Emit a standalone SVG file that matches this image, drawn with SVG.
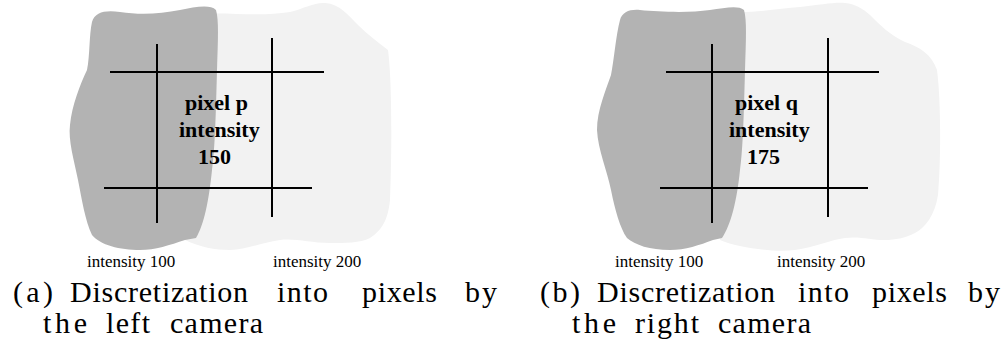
<svg xmlns="http://www.w3.org/2000/svg" width="1005" height="358" viewBox="0 0 1005 358">
<style>
.dark{fill:#b3b3b3}
.light{fill:#f2f2f2}
.grid line{stroke:#000;stroke-width:2}
.lbl{font-family:"Liberation Serif",serif;font-weight:bold;font-size:22px;fill:#000}
.sm{font-family:"Liberation Serif",serif;font-size:17px;fill:#000}
.cap{font-family:"Liberation Serif",serif;font-size:30px;fill:#000}
</style>
<rect width="1005" height="358" fill="#fff"/>
<g id="panel-a">
<g id="a-light-region"><path class="light" d="M200,14 C230,12 260,17 290,12 C305,8 315,2 325,3 C340,4 348,15 358,25 C368,35 378,42 388,50 C392,80 392,150 390,200 C388,220 382,230 370,238 C360,243 345,243 330,243 C310,243 295,238 280,240 C260,243 245,250 230,250 C215,250 200,247 185,240 Z"/></g>
<g id="a-dark-region"><path class="dark" d="M92,22 C95,12 105,10 120,12 C140,15 160,14 180,10 C195,7 210,4 216,10 C219,20 218,40 217,70 C216,110 215,150 212,170 C209,200 204,225 196,238 L185,240 C170,245 155,250 140,250 C120,250 100,245 92,235 C85,220 82,200 78,180 C74,160 68,140 70,125 C72,105 80,85 87,70 C90,55 89,35 92,22 Z"/></g>
<g id="a-grid" class="grid">
<line x1="110" y1="72" x2="324" y2="72"/>
<line x1="104" y1="188" x2="312" y2="188"/>
<line x1="157" y1="44" x2="157" y2="223"/>
<line x1="272" y1="38" x2="272" y2="217"/>
</g>
<g id="a-pixel-label">
<text class="lbl" x="185" y="110">pixel p</text>
<text class="lbl" x="179" y="137">intensity</text>
<text class="lbl" x="198" y="164">150</text>
</g>
<text class="sm" x="87" y="267">intensity 100</text>
<text class="sm" x="273" y="267">intensity 200</text>
<g id="a-caption" class="cap">
<text x="13" y="302" textLength="40" lengthAdjust="spacing">(a)</text>
<text x="70" y="302" textLength="178" lengthAdjust="spacing">Discretization</text>
<text x="277" y="302" textLength="51" lengthAdjust="spacing">into</text>
<text x="362" y="302" textLength="75" lengthAdjust="spacing">pixels</text>
<text x="465" y="302" textLength="32" lengthAdjust="spacing">by</text>
<text x="43" y="333" textLength="44" lengthAdjust="spacing">the</text>
<text x="106" y="333" textLength="44" lengthAdjust="spacing">left</text>
<text x="170" y="333" textLength="93" lengthAdjust="spacing">camera</text>
</g>
</g>
<g id="panel-b">
<g id="b-light-region"><path class="light" d="M730,12 C760,13 780,8 800,7 C820,5 835,2 845,3 C855,4 862,8 870,15 C880,25 890,35 905,42 C920,47 932,55 937,70 C941,100 941,160 938,195 C935,215 925,228 915,233 C905,238 895,240 885,240 C870,240 860,236 845,238 C830,240 815,247 795,250 C780,252 760,250 740,246 C730,244 725,242 720,240 Z"/></g>
<g id="b-dark-region"><path class="dark" d="M620,20 C622,12 630,9 640,10 C660,12 690,13 710,10 C725,8 738,5 744,10 C747,20 746,40 745,70 C744,110 743,150 740,170 C737,200 731,225 722,238 L713,240 C700,245 685,250 670,250 C650,250 635,245 627,238 C620,228 615,210 611,190 C607,170 598,150 597,130 C597,110 606,90 611,75 C614,60 616,35 620,20 Z"/></g>
<g id="b-grid" class="grid">
<line x1="666" y1="72" x2="879" y2="72"/>
<line x1="660" y1="188" x2="868" y2="188"/>
<line x1="712" y1="44" x2="712" y2="223"/>
<line x1="828" y1="38" x2="828" y2="217"/>
</g>
<g id="b-pixel-label">
<text class="lbl" x="735" y="110">pixel q</text>
<text class="lbl" x="729" y="137">intensity</text>
<text class="lbl" x="747" y="164">175</text>
</g>
<text class="sm" x="615" y="267">intensity 100</text>
<text class="sm" x="777" y="267">intensity 200</text>
<g id="b-caption" class="cap">
<text x="540" y="302" textLength="40" lengthAdjust="spacing">(b)</text>
<text x="597" y="302" textLength="178" lengthAdjust="spacing">Discretization</text>
<text x="798" y="302" textLength="51" lengthAdjust="spacing">into</text>
<text x="872" y="302" textLength="75" lengthAdjust="spacing">pixels</text>
<text x="968" y="302" textLength="32" lengthAdjust="spacing">by</text>
<text x="572" y="333" textLength="44" lengthAdjust="spacing">the</text>
<text x="635" y="333" textLength="64" lengthAdjust="spacing">right</text>
<text x="718" y="333" textLength="93" lengthAdjust="spacing">camera</text>
</g>
</g>
</svg>
